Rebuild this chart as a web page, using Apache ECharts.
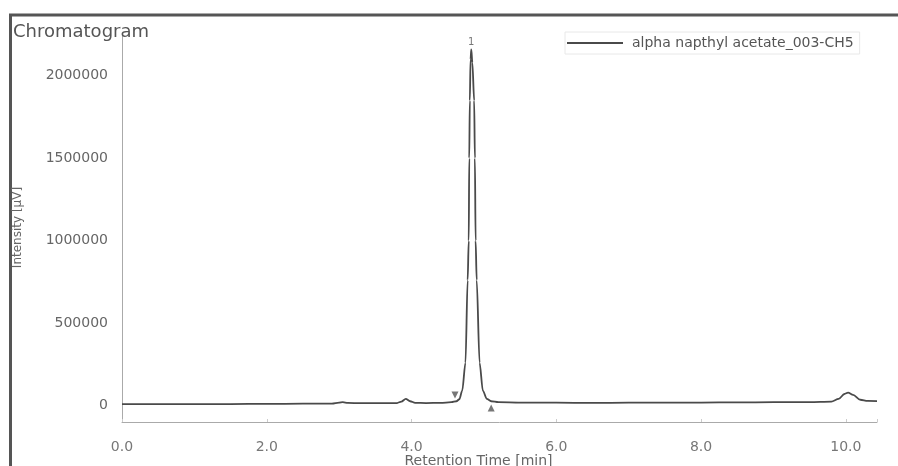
<!DOCTYPE html>
<html>
<head>
<meta charset="utf-8">
<script src="https://cdn.jsdelivr.net/npm/echarts@6/dist/echarts.min.js"></script>
<style>
html,body{margin:0;padding:0;background:#fff;}
#chart{width:898px;height:466px;}
</style>
</head>
<body>
<div id="chart"></div>
<script>
// Retention time (min)
const times = [0, 0.5, 1.0, 1.5, 2.0, 2.5, 2.9, 3.0, 3.05, 3.12, 3.3, 3.6, 3.8, 3.86, 3.92, 3.98, 4.05, 4.2, 4.4, 4.55, 4.62, 4.66, 4.70, 4.745, 4.775, 4.79, 4.797, 4.805, 4.815, 4.825, 4.84, 4.865, 4.875, 4.885, 4.90, 4.94, 4.985, 5.04, 5.10, 5.2, 5.5, 6.0, 6.5, 7.0, 7.5, 8.0, 8.5, 9.0, 9.5, 9.8, 9.9, 9.98, 10.03, 10.1, 10.2, 10.3, 10.43];
// Intensity (µV)
const intensities = [8000, 8000, 9000, 9000, 10000, 11000, 12000, 18000, 20000, 16000, 14000, 14000, 15000, 24000, 40000, 26000, 16000, 15000, 16000, 20000, 26000, 38000, 90000, 260000, 760000, 1000000, 1500000, 1850000, 2100000, 2160000, 2080000, 1850000, 1500000, 1000000, 760000, 260000, 90000, 40000, 26000, 20000, 18000, 17000, 16000, 17000, 18000, 18000, 19000, 20000, 21000, 24000, 40000, 70000, 78000, 65000, 35000, 28000, 27000];
// Peak start / end markers and peak number label
const markerTimes = [4.60, 5.10];
const markerValues = [64000, -15000];
const peakTime = [4.825];
const peakValue = [2160000];
const peakLabel = ['1'];
const seriesName = 'alpha napthyl acetate_003-CH5';

const chart = echarts.init(document.getElementById('chart'));
const font = 'DejaVu Sans';
chart.setOption({
  animation: false,
  backgroundColor: '#ffffff',
  title: {
    text: 'Chromatogram', left: 8, top: 18,
    textStyle: {fontFamily: font, fontSize: 18, fontWeight: 'normal', color: '#555'}
  },
  legend: {
    data: [seriesName], left: 565, top: 32,
    padding: [4, 6, 4, 2], borderColor: '#e8e8e8', borderWidth: 1,
    icon: 'rect', itemWidth: 56, itemHeight: 2,
    itemStyle: {color: '#4a4a4a'},
    textStyle: {fontFamily: font, fontSize: 14, color: '#555', padding: [0, 0, 0, 4], lineHeight: 14}
  },
  grid: {left: 122, right: 21, top: 33, bottom: 44, outerBoundsMode: 'none', containLabel: false},
  xAxis: {
    type: 'value', min: 0, max: 10.43, interval: 2,
    name: 'Retention Time [min]', nameLocation: 'middle', nameGap: 32, nameMoveOverlap: false,
    nameTextStyle: {fontFamily: font, fontSize: 14, color: '#666', padding: [0, 42, 0, 0]},
    axisLine: {onZero: false, lineStyle: {color: '#aaa', width: 1}},
    axisTick: {show: true, inside: true, length: 3, lineStyle: {color: '#ccc'}},
    splitLine: {show: false},
    axisLabel: {
      fontFamily: font, fontSize: 14, color: '#777', margin: 18,
      formatter: v => Math.abs(v / 2 - Math.round(v / 2)) < 1e-6 ? v.toFixed(1) : ''
    }
  },
  yAxis: {
    type: 'value', min: -100000, max: 2260000, interval: 100000,
    name: 'Intensity [µV]', nameLocation: 'middle', nameGap: 98, nameMoveOverlap: false,
    nameTextStyle: {fontFamily: font, fontSize: 12, color: '#666'},
    axisLine: {show: true, onZero: false, lineStyle: {color: '#aaa', width: 1}},
    axisTick: {show: false},
    splitLine: {show: false},
    axisLabel: {
      fontFamily: font, fontSize: 14, color: '#666', margin: 14,
      formatter: v => (v >= 0 && Math.abs(v % 500000) < 1) ? String(v) : ''
    }
  },
  series: [
    {
      name: seriesName, type: 'line',
      data: times.map((t, i) => [t, intensities[i]]),
      symbol: 'none', showSymbol: false,
      smooth: 0.3, smoothMonotone: 'x',
      lineStyle: {color: '#4a4a4a', width: 1.8},
      itemStyle: {color: '#4a4a4a'}
    },
    {
      name: 'markers', type: 'scatter',
      data: markerTimes.map((t, i) => ({value: [t, markerValues[i]], symbolRotate: i === 0 ? 180 : 0})),
      symbol: 'triangle', symbolSize: 7,
      itemStyle: {color: '#555'}
    },
    {
      name: 'peak', type: 'scatter',
      data: peakTime.map((t, i) => ({value: [t, peakValue[i]], name: peakLabel[i]})),
      symbolSize: 1,
      itemStyle: {color: 'rgba(0,0,0,0)'},
      label: {show: true, position: 'top', distance: 2, formatter: p => p.name,
        fontFamily: font, fontSize: 10, color: '#555'}
    }
  ],
  graphic: [
    {type: 'line', shape: {x1: 9, y1: 15, x2: 898, y2: 15}, style: {stroke: '#555', lineWidth: 3}},
    {type: 'line', shape: {x1: 10.5, y1: 14, x2: 10.5, y2: 466}, style: {stroke: '#555', lineWidth: 3}}
  ]
});
</script>
</body>
</html>
